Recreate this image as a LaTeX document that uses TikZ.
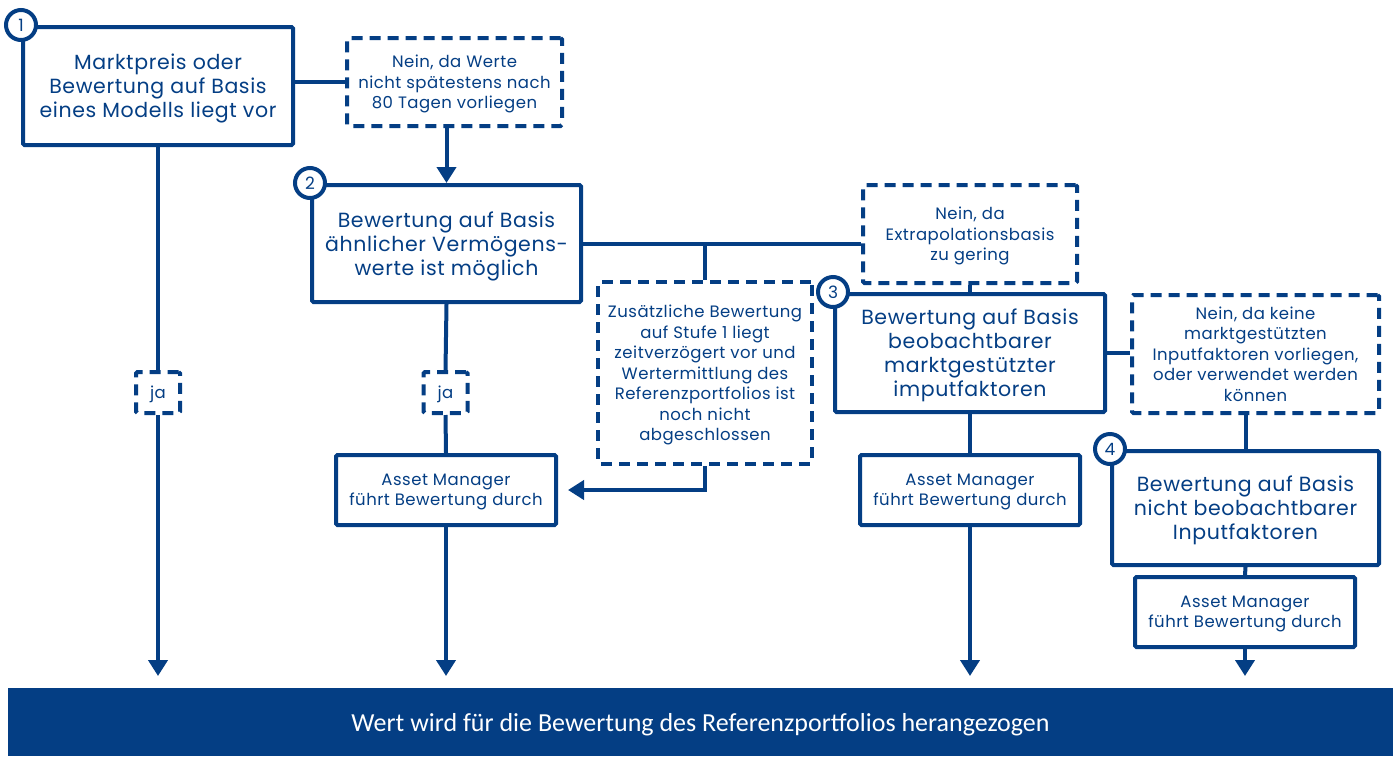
\documentclass[tikz,border=0pt]{standalone}
\usepackage{fontspec}
\setmainfont{Poppins}[LetterSpace=3]
\newfontfamily\barfont{Carlito}
\usetikzlibrary{arrows.meta}
\definecolor{navy}{RGB}{4,62,132}

\begin{document}
\begin{tikzpicture}[x=1pt, y=-1pt, line width=4pt, navy,
  box/.style={draw, rounded corners=1.5pt, fill=white, align=center, inner sep=0pt, text depth=0pt},
  big/.style={font=\fontsize{20.5}{24}\selectfont},
  small/.style={font=\fontsize{16.5}{20.5}\selectfont},
  dbox/.style={box, small, dash pattern=on 11pt off 7pt},
  ambox/.style={box, small, minimum width=220, minimum height=70},
  num/.style={draw, circle, fill=white, minimum size=30pt, inner sep=0pt, font=\fontsize{17}{17}\selectfont},
  arr/.style={-{Triangle[length=16pt,width=19pt]}}]

% the page
\useasboundingbox (0,0) rectangle (1397,756);

% the main boxes
\node[box, big, minimum width=270, minimum height=118] (b1) at (158,86)
  {Marktpreis oder\\Bewertung auf Basis\\eines Modells liegt vor};
\node[box, big, minimum width=269, minimum height=117] (b2) at (446.5,243.5)
  {Bewertung auf Basis\\ähnlicher Vermögens-\\werte ist möglich};
\node[box, big, minimum width=270, minimum height=118] (b3) at (970,353)
  {Bewertung auf Basis\\beobachtbarer\\marktgestützter\\imputfaktoren};
\node[box, big, minimum width=267, minimum height=114] (b4) at (1245.5,508)
  {Bewertung auf Basis\\nicht beobachtbarer\\Inputfaktoren};

% the dashed boxes
\node[dbox, minimum width=215, minimum height=88] (n1) at (454.5,82)
  {Nein, da Werte\\nicht spätestens nach\\80 Tagen vorliegen};
\node[dbox, minimum width=214, minimum height=98] (n2) at (970,234)
  {Nein, da\\Extrapolationsbasis\\zu gering};
\node[dbox, minimum width=214, minimum height=182] (n3) at (705,373)
  {Zusätzliche Bewertung\\auf Stufe 1 liegt\\zeitverzögert vor und\\Wertermittlung des\\Referenzportfolios ist\\noch nicht\\abgeschlossen};
\node[dbox, minimum width=247, minimum height=118] (n4) at (1255.5,354)
  {Nein, da keine\\marktgestützten\\Inputfaktoren vorliegen,\\oder verwendet werden\\können};
\node[dbox, minimum width=44, minimum height=41] (ja1) at (158,392.5) {ja};
\node[dbox, minimum width=44, minimum height=41] (ja2) at (445.5,392.5) {ja};

% asset manager
\node[ambox] (am2) at (446,490) {Asset Manager\\führt Bewertung durch};
\node[ambox] (am3) at (970,490) {Asset Manager\\führt Bewertung durch};
\node[ambox] (am4) at (1245,612) {Asset Manager\\führt Bewertung durch};

% the bar
\node[fill=navy, minimum width=1385, minimum height=68, inner sep=0pt, text=white, text depth=0pt,
  font=\barfont\fontsize{26}{26}\selectfont] (bar) at (700.5,722)
  {Wert wird für die Bewertung des Referenzportfolios herangezogen};

% connectors
\draw (b1.east |- n1.west) -- (n1.west);
\draw[arr] (n1.south -| b2.north) -- (b2.north);
\draw (b2.east) -- (b2.east -| n2.west);
\draw (n3.north) -- (n3.north |- b2.east);
\draw (n2.south) -- (b3.north);
\draw (b3.east) -- (b3.east -| n4.west);
\draw (n4.south -| b4.north) -- (b4.north);
\draw[arr, shorten >=10pt] (n3.south) |- (am2.east);

\draw (b1.south) -- (ja1.north);
\draw[arr, shorten >=10pt] (ja1.south) -- (ja1.south |- bar.north);
\draw (b2.south) -- (ja2.north);
\draw (ja2.south) -- (am2.north);
\draw[arr, shorten >=10pt] (am2.south) -- (am2.south |- bar.north);
\draw (b3.south) -- (am3.north);
\draw[arr, shorten >=10pt] (am3.south) -- (am3.south |- bar.north);
\draw (b4.south) -- (am4.north);
\draw[arr, shorten >=10pt] (am4.south) -- (am4.south |- bar.north);

% the numbers
\node[num] at (b1.north west) {1};
\node[num] at (b2.north west) {2};
\node[num] at (b3.north west) {3};
\node[num] at (b4.north west) {4};

\end{tikzpicture}
\end{document}
